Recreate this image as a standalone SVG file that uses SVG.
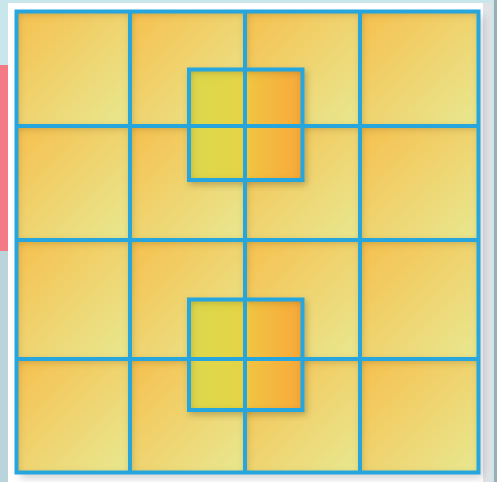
<svg xmlns="http://www.w3.org/2000/svg" width="497" height="482" viewBox="0 0 497 482">
<defs>
<linearGradient id="cellG" x1="0" y1="0" x2="1" y2="1">
<stop offset="0" stop-color="#f6c04f"/>
<stop offset="1" stop-color="#e8e891"/>
</linearGradient>
<linearGradient id="smallG" x1="0" y1="0" x2="1" y2="0">
<stop offset="0" stop-color="#dcd84e"/>
<stop offset="0.45" stop-color="#e4d446"/>
<stop offset="0.55" stop-color="#f1c242"/>
<stop offset="1" stop-color="#f9a83a"/>
</linearGradient>
<linearGradient id="cardShade" x1="0" y1="0" x2="1" y2="0">
<stop offset="0" stop-color="#ffffff"/>
<stop offset="1" stop-color="#dfe3e5"/>
</linearGradient>
<filter id="inner" x="-10%" y="-10%" width="120%" height="120%">
<feComponentTransfer in="SourceAlpha" result="inv"><feFuncA type="table" tableValues="1 0"/></feComponentTransfer>
<feGaussianBlur in="inv" stdDeviation="4" result="blur"/>
<feOffset in="blur" dx="1" dy="2" result="off"/>
<feFlood flood-color="#6e5210" flood-opacity="0.55"/>
<feComposite operator="in" in2="off" result="shadow"/>
<feComposite operator="in" in="shadow" in2="SourceAlpha" result="insh"/>
<feMerge><feMergeNode in="SourceGraphic"/><feMergeNode in="insh"/></feMerge>
</filter>
<filter id="drop" x="-10%" y="-10%" width="125%" height="125%">
<feGaussianBlur in="SourceAlpha" stdDeviation="3"/>
<feOffset dx="2" dy="3" result="o"/>
<feFlood flood-color="#5a4a20" flood-opacity="0.35"/>
<feComposite operator="in" in2="o" result="s"/>
<feMerge><feMergeNode in="s"/><feMergeNode in="SourceGraphic"/></feMerge>
</filter>
<filter id="gridShadow" x="-5%" y="-5%" width="112%" height="112%">
<feGaussianBlur in="SourceAlpha" stdDeviation="4"/>
<feOffset dx="4" dy="5" result="o"/>
<feFlood flood-color="#000" flood-opacity="0.18"/>
<feComposite operator="in" in2="o"/>
</filter>
</defs>
<style>
.cell{fill:url(#cellG);filter:url(#inner)}
.small{fill:url(#smallG);filter:url(#inner)}
.ln{stroke:#27a6de;stroke-width:4;fill:none}
</style>
<rect x="0" y="0" width="497" height="482" fill="#c8e6ec"/>
<rect x="494" y="0" width="3" height="482" fill="#9aaeb3"/>
<rect x="0" y="65" width="8" height="186" fill="#f47a86"/>
<rect x="0" y="251" width="8" height="231" fill="#b9d4da"/>
<rect x="8" y="3" width="484" height="479" fill="url(#cardShade)"/>
<rect x="8" y="3" width="475" height="479" fill="#ffffff"/>
<rect x="16" y="11" width="463" height="462" fill="#000" filter="url(#gridShadow)"/>
<g id="cells">
<g id="c11"><rect class="cell" x="16" y="11" width="114" height="115"/></g>
<g id="c12"><rect class="cell" x="130" y="11" width="115" height="115"/></g>
<g id="c13"><rect class="cell" x="245" y="11" width="115" height="115"/></g>
<g id="c14"><rect class="cell" x="360" y="11" width="119" height="115"/></g>
<g id="c21"><rect class="cell" x="16" y="126" width="114" height="114"/></g>
<g id="c22"><rect class="cell" x="130" y="126" width="115" height="114"/></g>
<g id="c23"><rect class="cell" x="245" y="126" width="115" height="114"/></g>
<g id="c24"><rect class="cell" x="360" y="126" width="119" height="114"/></g>
<g id="c31"><rect class="cell" x="16" y="240" width="114" height="119"/></g>
<g id="c32"><rect class="cell" x="130" y="240" width="115" height="119"/></g>
<g id="c33"><rect class="cell" x="245" y="240" width="115" height="119"/></g>
<g id="c34"><rect class="cell" x="360" y="240" width="119" height="119"/></g>
<g id="c41"><rect class="cell" x="16" y="359" width="114" height="114"/></g>
<g id="c42"><rect class="cell" x="130" y="359" width="115" height="114"/></g>
<g id="c43"><rect class="cell" x="245" y="359" width="115" height="114"/></g>
<g id="c44"><rect class="cell" x="360" y="359" width="119" height="114"/></g>
</g>
<g id="smallTop" filter="url(#drop)">
<rect class="small" x="189" y="69.5" width="113.5" height="110.5"/>
<rect class="ln" x="189" y="69.5" width="113.5" height="110.5"/>
</g>
<g id="smallBottom" filter="url(#drop)">
<rect class="small" x="189" y="299.5" width="113.5" height="110.5"/>
<rect class="ln" x="189" y="299.5" width="113.5" height="110.5"/>
</g>
<g id="connectors">
<rect class="ln" x="16.5" y="11.5" width="462" height="461"/>
<line class="ln" x1="130" y1="11.5" x2="130" y2="472.5"/>
<line class="ln" x1="245" y1="11.5" x2="245" y2="472.5"/>
<line class="ln" x1="360" y1="11.5" x2="360" y2="472.5"/>
<line class="ln" x1="16.5" y1="126" x2="478.5" y2="126"/>
<line class="ln" x1="16.5" y1="240" x2="478.5" y2="240"/>
<line class="ln" x1="16.5" y1="359" x2="478.5" y2="359"/>
</g>
</svg>
